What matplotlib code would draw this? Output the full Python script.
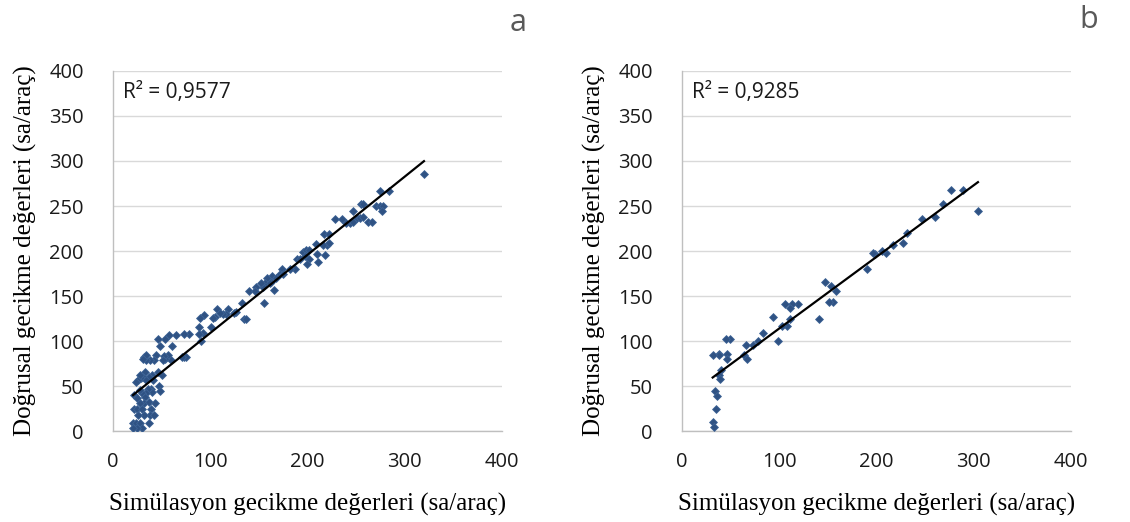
import numpy as np
import matplotlib.pyplot as plt

# panel a: simulation vs linear delay (sa/araç)
sim_a = [320, 283.6, 275, 271, 275, 278, 276.4, 255.4, 257.5, 247, 250.6, 254, 257.5,
         262, 267, 243.7, 247, 240, 228.6, 236, 217, 222, 219.7, 222, 216, 218, 209,
         210, 210.8, 196, 199, 202, 197.7, 202, 200, 189, 192, 187.4, 182, 174.4, 171.6,
         175, 164, 168, 163, 158, 156, 154.5, 161.3, 165.5, 152.4, 147, 140, 146, 155,
         133, 127, 125, 134.6, 137, 118, 116, 113, 107, 110, 105, 103, 94, 90, 101, 93,
         89, 89, 91, 78, 73, 73.5, 75.5, 70.7, 64.5, 57.7, 53.5, 46.7, 48, 60.4, 57,
         59.7, 54, 52.9, 51.5, 44, 42.6, 38.4, 34.3, 32.3, 34.3, 31, 46, 50, 47.4, 48,
         40, 41, 37, 33, 31, 29, 26, 24, 27.5, 34, 39, 40.5, 36, 34, 30, 27.5, 33, 22,
         25, 32, 37, 43, 27.5, 22, 24.7, 29.5, 39, 38, 42, 31.6, 26, 21, 24, 28, 29.5,
         25, 20.6, 37]
lin_a = [285, 267, 267, 250, 250, 250, 244, 252, 252, 245, 237, 237, 238,
         232, 232, 231, 232.6, 231, 236, 236, 219, 219, 207, 208.5, 207, 196, 208,
         197, 188, 199, 201, 201, 194, 191, 186, 191, 191, 180, 180, 180, 175,
         175, 172, 170, 166, 170, 164, 160, 164, 157, 165, 160, 156, 156, 142.6,
         142.6, 132, 131, 125, 125, 136, 130, 130, 136, 131, 127, 126, 129, 126, 116, 108.5,
         116, 108, 100, 108, 108, 82.6, 82.6, 82.6, 107, 107, 102, 102, 95, 95, 84,
         79, 80, 83, 79, 84, 79, 79, 79, 82.6, 84, 80, 66, 62, 50, 45,
         62, 57, 60, 66, 60, 58.5, 57, 55, 62, 57, 47, 43, 47, 42.6, 42, 45.6, 38, 40,
         36.7, 31.5, 32, 31.5, 31, 25, 25, 25, 25, 18, 18, 18, 18, 8.5, 8.5, 8.5, 3,
         3, 3, 8.5]

# panel b
sim_b = [304.6, 288.9, 276.8, 268.3, 260.7, 247.3, 231.9, 227.1, 217.5, 210.3, 205.8,
         198.3, 196.2, 190.7, 158.5, 153, 147.5, 155.7, 151.6, 140.7, 119.4, 113.2,
         106.3, 111, 111, 107.7, 103, 98.8, 93.7, 83.7, 78.2, 72.7, 65.9, 63.8, 66.6,
         49.4, 45, 46.7, 46, 38.4, 37.7, 31.6, 39.8, 38.4, 39, 34.3, 36.4, 35, 32.2, 33]
lin_b = [244.8, 267.8, 267.8, 252, 238, 236, 219.6, 209, 206.7, 197.4, 199.6,
         196.7, 198, 180, 156, 161, 166, 143, 143, 125, 141.5, 141.5,
         141.5, 136.7, 125, 116.7, 117, 100, 127, 108.5, 100, 96, 96, 84, 80,
         102.6, 102.6, 85.6, 80, 85.6, 84, 84, 67.8, 62, 57.4, 44.8, 39, 24.8, 10, 4]

panels = [(sim_a, lin_a, 'R² = 0,9577', 'a'), (sim_b, lin_b, 'R² = 0,9285', 'b')]
ticks = [0, 100, 200, 300, 400]
yticks = [0, 50, 100, 150, 200, 250, 300, 350, 400]

fig = plt.figure(figsize=(11.3, 5.22), dpi=100)
boxes = [[0.1, 0.1743, 0.344, 0.6897], [0.6035, 0.1743, 0.344, 0.6897]]
letter_xy = [(0.4585, 0.956), (0.9637, 0.962)]

for i, (x, y, r2, letter) in enumerate(panels):
    ax = fig.add_axes(boxes[i])
    x = np.array(x)
    y = np.array(y)
    ax.scatter(x, y, marker='D', s=16, color='#2F5283', edgecolors='#3E6496',
               linewidths=0.6, zorder=3)
    k, b = np.polyfit(x, y, 1)
    xs = np.array([x.min(), x.max()])
    ax.plot(xs, k * xs + b, color='black', lw=1.6, zorder=4)

    ax.set_xlim(0, 400)
    ax.set_ylim(0, 400)
    ax.set_xticks(ticks)
    ax.set_yticks(yticks)
    ax.grid(axis='y', color='#D9D9D9', lw=1)
    ax.set_axisbelow(True)
    for s in ['top', 'right']:
        ax.spines[s].set_visible(False)
    for s in ['left', 'bottom']:
        ax.spines[s].set_color('#BFBFBF')
        ax.spines[s].set_linewidth(1)
    ax.tick_params(length=0, labelsize=14.5, labelcolor='#1a1a1a')
    ax.tick_params(axis='y', pad=21)
    ax.tick_params(axis='x', pad=15)
    for lab in ax.get_xticklabels() + ax.get_yticklabels():
        lab.set_family('Open Sans')

    ax.text(0.025, 0.94, r2, transform=ax.transAxes, fontsize=15,
            family='Open Sans', va='center', ha='left', color='#1a1a1a')
    ax.set_xlabel('Simülasyon gecikme değerleri (sa/araç)', family='Liberation Serif',
                  fontsize=18, labelpad=15.5)
    ax.set_ylabel('Doğrusal gecikme değerleri (sa/araç)', family='Liberation Serif',
                  fontsize=18, labelpad=8.5)
    fig.text(letter_xy[i][0], letter_xy[i][1], letter, fontsize=22, color='#595959',
             family='Open Sans', ha='center', va='center')

fig.savefig('out.png', dpi=100)
